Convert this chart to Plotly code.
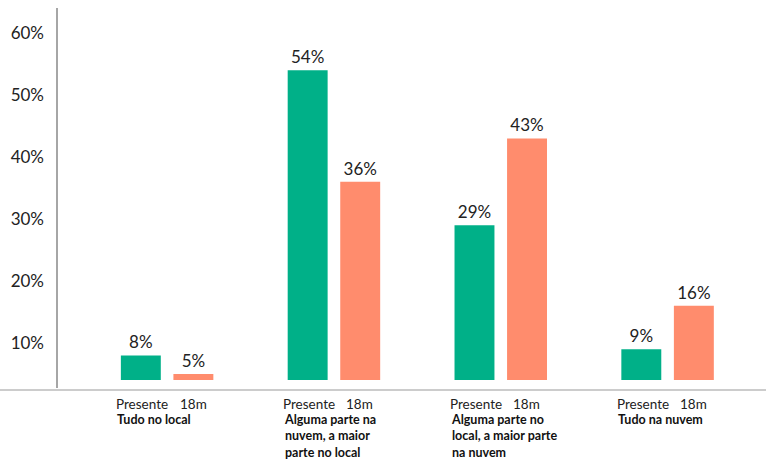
import plotly.graph_objects as go

categories = ["Tudo no local", "Alguma parte na nuvem, a maior parte no local",
              "Alguma parte no local, a maior parte na nuvem", "Tudo na nuvem"]
category_labels = ["Tudo no local", "Alguma parte na<br>nuvem, a maior<br>parte no local",
                   "Alguma parte no<br>local, a maior parte<br>na nuvem", "Tudo na nuvem"]
series_names = ["Presente", "18m"]
presente = [8, 54, 29, 9]
m18 = [5, 36, 43, 16]
tick_vals = [10, 20, 30, 40, 50, 60]
tick_text = ["10%", "20%", "30%", "40%", "50%", "60%"]

GREEN = "#00B088"
CORAL = "#FF8C6D"
FONT = "Lato"

fig = go.Figure()
for name, vals, col in [(series_names[0], presente, GREEN), (series_names[1], m18, CORAL)]:
    fig.add_trace(go.Bar(
        x=categories, y=vals, name=name, marker=dict(color=col, line=dict(width=0)),
        text=[f"{v}%" for v in vals], textposition="outside", cliponaxis=False,
        textfont=dict(family=FONT, size=17, color="#222"),
    ))

W, H = 766, 461
L, R, T, B = 57, 15, 8, 81
pw, ph = W - L - R, H - T - B

fig.update_layout(
    width=W, height=H, margin=dict(l=L, r=R, t=T, b=B),
    paper_bgcolor="white", plot_bgcolor="white",
    barmode="group", bargap=0.37, bargroupgap=0.24,
    showlegend=False, font=dict(family=FONT, color="#222"),
    xaxis=dict(range=[-0.66, 3.50], showticklabels=False, showgrid=False, zeroline=False,
               showline=False, ticks=""),
    yaxis=dict(range=[4.03, 64.03], tickvals=tick_vals, ticktext=tick_text,
               showgrid=False, zeroline=False, showline=False, ticks="",
               ticklabelstandoff=12, tickfont=dict(family=FONT, size=17, color="#222")),
)

# axis lines
fig.add_shape(type="line", xref="paper", yref="paper", x0=0, x1=0,
              y0=-8 / ph, y1=1, line=dict(color="#888", width=1.5))
fig.add_shape(type="line", xref="paper", yref="paper", x0=-L / pw, x1=(W - L) / pw,
              y0=-10 / ph, y1=-10 / ph, line=dict(color="#bbb", width=1.5))

for i, cat in enumerate(categories):
    for name, shift in [(series_names[0], -25), (series_names[1], 26)]:
        fig.add_annotation(x=cat, xref="x", y=-24 / ph, yref="paper", text=name,
                           showarrow=False, xshift=shift, xanchor="center", yanchor="middle",
                           font=dict(family=FONT, size=13.5, color="#222"))
    fig.add_annotation(x=cat, xref="x", y=-30 / ph, yref="paper",
                       text=f"<b>{category_labels[i]}</b>", showarrow=False,
                       xshift=-52, xanchor="left", yanchor="top", align="left",
                       font=dict(family=FONT, size=12.5, color="#111"))

fig.write_html("out.html", config={"displayModeBar": False},
               post_script="document.body.style.margin='0';document.body.style.overflow='hidden';")
